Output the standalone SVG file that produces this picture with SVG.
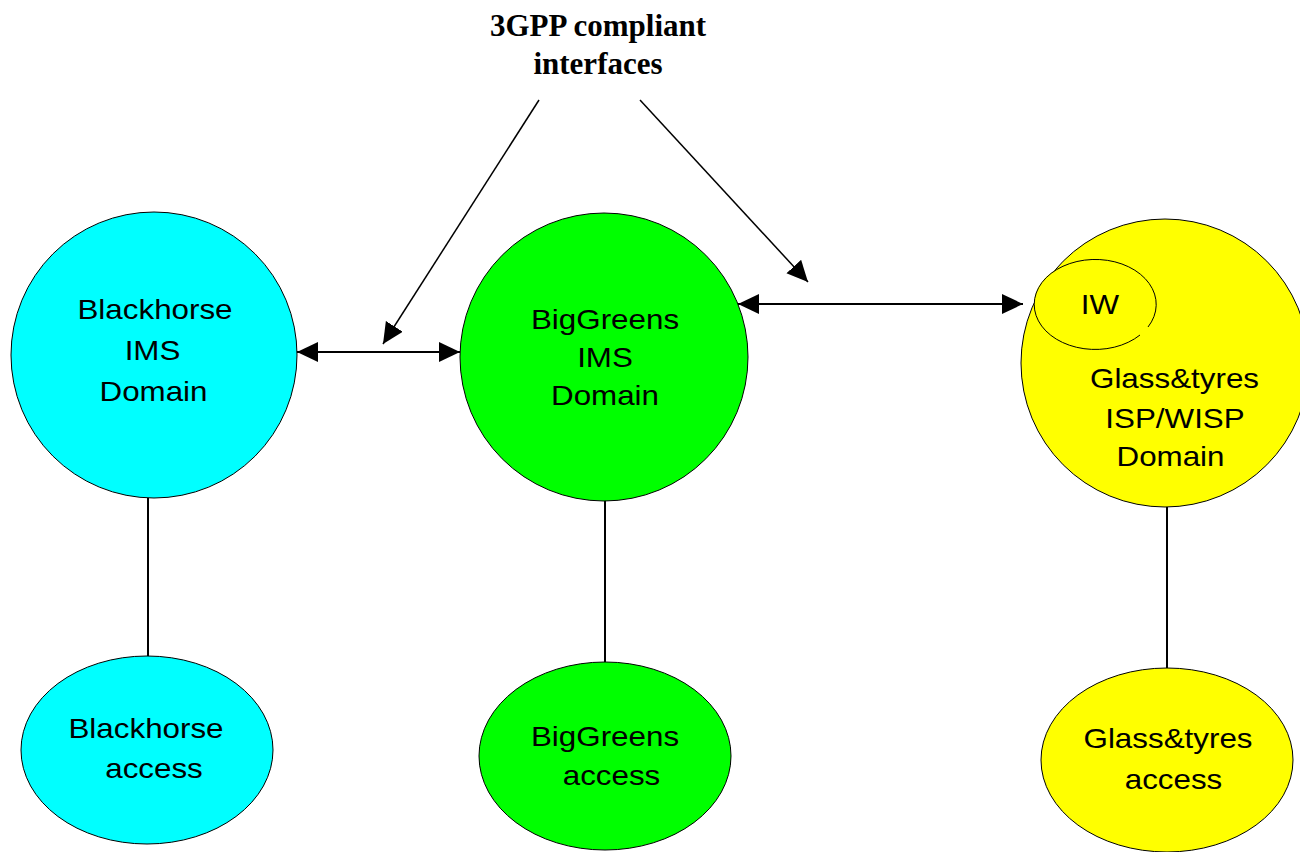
<svg xmlns="http://www.w3.org/2000/svg" width="1300" height="852" viewBox="0 0 1300 852">
<defs>
<style>
.node{stroke:#000;stroke-width:1}
.cyan{fill:#00FFFF}
.green{fill:#00FF00}
.yellow{fill:#FFFF00}
.lbl{font-family:"Liberation Sans",Arial,sans-serif;font-size:28px;fill:#000;text-anchor:middle}
.title{font-family:"Liberation Serif","Times New Roman",serif;font-size:31px;font-weight:bold;fill:#000;text-anchor:middle}
.conn{stroke:#000;fill:none}
</style>
<marker id="ah" markerUnits="userSpaceOnUse" markerWidth="22" markerHeight="21" refX="21" refY="10" orient="auto-start-reverse" viewBox="0 0 22 21">
<path d="M0,0 L21,10 L0,20 z" fill="#000"/>
</marker>
</defs>
<rect width="1300" height="852" fill="#fff"/>

<g id="connectors">
<line class="conn" x1="148" y1="498" x2="148" y2="658" stroke-width="2"/>
<line class="conn" x1="605" y1="500" x2="605" y2="662" stroke-width="2"/>
<line class="conn" x1="1167" y1="507" x2="1167" y2="668" stroke-width="2"/>
<line class="conn" x1="297" y1="352" x2="460" y2="352" stroke-width="2" marker-start="url(#ah)" marker-end="url(#ah)"/>
<line class="conn" x1="738" y1="304" x2="1023" y2="304" stroke-width="2" marker-start="url(#ah)" marker-end="url(#ah)"/>
<line class="conn" x1="539" y1="100" x2="383" y2="344" stroke-width="1.5" marker-end="url(#ah)"/>
<line class="conn" x1="640" y1="100" x2="808" y2="282" stroke-width="1.5" marker-end="url(#ah)"/>
</g>

<g id="title">
<text class="title" x="598" y="36">3GPP compliant</text>
<text class="title" x="598" y="74">interfaces</text>
</g>

<g id="blackhorse-ims">
<circle class="node cyan" cx="154" cy="355" r="143"/>
<g transform="translate(0 0)">
<text class="lbl" transform="translate(155 319) scale(1.12 1)">Blackhorse</text>
<text class="lbl" transform="translate(152.5 360) scale(1.12 1)">IMS</text>
<text class="lbl" transform="translate(153.5 401) scale(1.12 1)">Domain</text>
</g>
</g>

<g id="biggreens-ims">
<circle class="node green" cx="604" cy="357" r="144"/>
<text class="lbl" transform="translate(605 329) scale(1.12 1)">BigGreens</text>
<text class="lbl" transform="translate(605 367) scale(1.12 1)">IMS</text>
<text class="lbl" transform="translate(605 405) scale(1.12 1)">Domain</text>
</g>

<g id="glasstyres-isp">
<circle class="node yellow" cx="1165" cy="363" r="144"/>
<g id="iw">
<ellipse class="yellow" cx="1095" cy="304" rx="61" ry="45"/>
<path class="conn" d="M1140,335 A61,45 0 1 1 1148,327" stroke-width="1"/>
<text class="lbl" transform="translate(1100 314) scale(1.12 1)">IW</text>
</g>
<text class="lbl" transform="translate(1174.5 388) scale(1.12 1)">Glass&amp;tyres</text>
<text class="lbl" transform="translate(1175 428) scale(1.12 1)">ISP/WISP</text>
<text class="lbl" transform="translate(1170.5 466) scale(1.12 1)">Domain</text>
</g>

<g id="blackhorse-access">
<ellipse class="node cyan" cx="147" cy="750" rx="126" ry="94"/>
<text class="lbl" transform="translate(146 738) scale(1.12 1)">Blackhorse</text>
<text class="lbl" transform="translate(154 778) scale(1.12 1)">access</text>
</g>

<g id="biggreens-access">
<ellipse class="node green" cx="605" cy="756" rx="126" ry="94"/>
<text class="lbl" transform="translate(605 746) scale(1.12 1)">BigGreens</text>
<text class="lbl" transform="translate(611.5 785) scale(1.12 1)">access</text>
</g>

<g id="glasstyres-access">
<ellipse class="node yellow" cx="1167" cy="760" rx="126" ry="92"/>
<text class="lbl" transform="translate(1168 748) scale(1.12 1)">Glass&amp;tyres</text>
<text class="lbl" transform="translate(1173.5 789) scale(1.12 1)">access</text>
</g>
</svg>
